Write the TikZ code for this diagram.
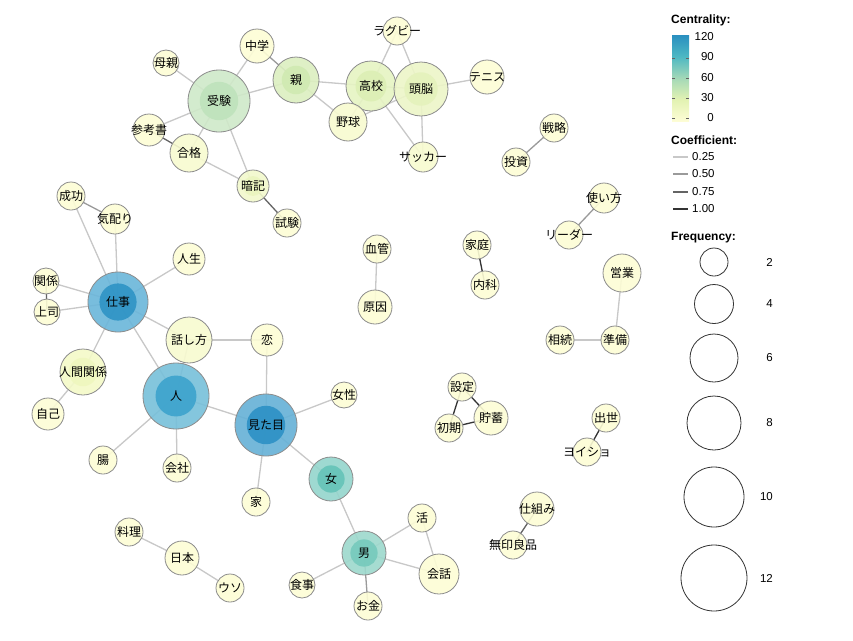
\documentclass[tikz,border=0pt]{standalone}
\usepackage{fontspec}
\setmainfont{Liberation Sans}
\newfontfamily\jpfont{Noto Sans CJK JP}
\usetikzlibrary{backgrounds}

% centrality colours
\definecolor{cz}{HTML}{FDFDD5}
\definecolor{c30}{HTML}{E2F2B2}
\definecolor{c60}{HTML}{A3D8B7}
\definecolor{c90}{HTML}{4DB8C3}
\definecolor{c120}{HTML}{2A8FC0}
\definecolor{ring}{HTML}{8C8C8C}
% node fills (outer / inner)
\definecolor{jukenO}{HTML}{CFE9C9}\definecolor{jukenI}{HTML}{BFE3BC}
\definecolor{oyaO}{HTML}{DCEFC0}\definecolor{oyaI}{HTML}{D0EAB2}
\definecolor{kokoO}{HTML}{E6F4C3}\definecolor{kokoI}{HTML}{DCEFB5}
\definecolor{zunoO}{HTML}{EDF6C8}\definecolor{zunoI}{HTML}{E5F2BC}
\definecolor{ankiO}{HTML}{F2F9CC}\definecolor{ankiI}{HTML}{EBF5BF}
\definecolor{ningenO}{HTML}{F4FAC8}\definecolor{ningenI}{HTML}{EFF7BE}
\definecolor{shigotoO}{HTML}{6AB6DA}\definecolor{shigotoI}{HTML}{2E93C5}
\definecolor{hitoO}{HTML}{77C0DA}\definecolor{hitoI}{HTML}{3DA3CD}
\definecolor{mitameO}{HTML}{65B1D7}\definecolor{mitameI}{HTML}{2D91C5}
\definecolor{onnaO}{HTML}{94D5CC}\definecolor{onnaI}{HTML}{65C3B8}
\definecolor{otokoO}{HTML}{9DD9CD}\definecolor{otokoI}{HTML}{76CABC}
\definecolor{c10}{HTML}{F8FBD0}
% coefficient colours
\definecolor{e25}{HTML}{C8C8C8}
\definecolor{e50}{HTML}{9A9A9A}
\definecolor{e75}{HTML}{646464}
\definecolor{e100}{HTML}{333333}

\pgfdeclareverticalshading{centbar}{100bp}{color(0bp)=(cz); color(25bp)=(cz); color(37.5bp)=(c30); color(50bp)=(c60); color(62.5bp)=(c90); color(75bp)=(c120); color(100bp)=(c120)}

\newsavebox\lblbox
\tikzset{
	bub/.style={circle, draw=ring, line width=0.8pt, fill=cz, fill opacity=.9, text opacity=1,
		minimum size={2*#1}, inner sep=0pt, font=\jpfont\fontsize{12}{12}\selectfont,
		execute at begin node={\setbox\lblbox=\hbox\bgroup},
		execute at end node={\egroup\hbox to 0pt{\hss\usebox\lblbox\hss}}},
	hub/.style n args={3}{bub=#1, fill=#2,
		path picture={\fill[#3] (path picture bounding box.center) circle ({0.62*#1});}},
	co25/.style={draw=e25, line width=1.3pt},
	co50/.style={draw=e50, line width=1.3pt},
	co75/.style={draw=e75, line width=1.3pt},
	co100/.style={draw=e100, line width=1.3pt},
	lgd/.style={font=\fontsize{11.5}{12}\selectfont, inner sep=0pt},
	lgdhead/.style={font=\bfseries\fontsize{12}{13}\selectfont, inner sep=0pt, anchor=west},
}

\begin{document}
\begin{tikzpicture}[x=1pt,y=-1pt]
	\useasboundingbox (0,0) rectangle (853,640);
	% exam / school cluster
	\node[hub={31}{jukenO}{jukenI}] (juken) at (219,101) {受験};
	\node[bub=17] (chugaku) at (257,46) {中学};
	\node[hub={23}{oyaO}{oyaI}] (oya) at (296,80) {親};
	\node[bub=13] (hahaoya) at (166,63) {母親};
	\node[bub=16] (sankosho) at (149,130) {参考書};
	\node[bub=19, fill=c10] (gokaku) at (189,153) {合格};
	\node[hub={16}{ankiO}{ankiI}] (anki) at (253,186) {暗記};
	\node[bub=14] (shiken) at (287,223) {試験};
	\node[hub={25}{kokoO}{kokoI}] (koko) at (371,86) {高校};
	\node[hub={27}{zunoO}{zunoI}] (zuno) at (421,89) {頭脳};
	\node[bub=14] (rugby) at (397,31) {ラグビー};
	\node[bub=17] (tennis) at (487,77) {テニス};
	\node[bub=19, fill=c10] (yakyu) at (348,122) {野球};
	\node[bub=15, fill=c10] (soccer) at (423,157) {サッカー};
	\node[bub=14] (senryaku) at (554,128) {戦略};
	\node[bub=14] (toshi) at (516,162) {投資};
	\node[bub=15] (tsukaikata) at (604,198) {使い方};
	\node[bub=14] (leader) at (569,235) {リーダー};
	% work / people cluster
	\node[bub=14] (seiko) at (71,196) {成功};
	\node[bub=15] (kikubari) at (115,219) {気配り};
	\node[bub=16] (jinsei) at (189,259) {人生};
	\node[hub={30}{shigotoO}{shigotoI}] (shigoto) at (118,302) {仕事};
	\node[bub=13] (kankei) at (46,281) {関係};
	\node[bub=13] (joshi) at (47,312) {上司};
	\node[bub=23, fill=c10] (hanashikata) at (189,340) {話し方};
	\node[bub=16] (koi) at (267,340) {恋};
	\node[hub={23}{ningenO}{ningenI}] (ningen) at (83,372) {人間関係};
	\node[bub=16] (jiko) at (48,414) {自己};
	\node[hub={33}{hitoO}{hitoI}] (hito) at (176,396) {人};
	\node[hub={31}{mitameO}{mitameI}] (mitame) at (266,425) {見た目};
	\node[bub=13] (josei) at (344,395) {女性};
	\node[bub=14] (cho) at (103,460) {腸};
	\node[bub=14] (kaisha) at (177,468) {会社};
	\node[bub=14] (ie) at (256,502) {家};
	\node[hub={22}{onnaO}{onnaI}] (onna) at (331,479) {女};
	\node[hub={22}{otokoO}{otokoI}] (otoko) at (364,553) {男};
	\node[bub=14] (katsu) at (422,518) {活};
	\node[bub=20] (kaiwa) at (439,574) {会話};
	\node[bub=13] (shokuji) at (302,585) {食事};
	\node[bub=14] (okane) at (368,606) {お金};
	\node[bub=14] (ryori) at (129,532) {料理};
	\node[bub=17] (nihon) at (182,558) {日本};
	\node[bub=14] (uso) at (230,588) {ウソ};
	% small pairs
	\node[bub=14] (kekkan) at (377,249) {血管};
	\node[bub=17] (genin) at (375,307) {原因};
	\node[bub=14] (katei) at (477,245) {家庭};
	\node[bub=14] (naika) at (485,285) {内科};
	\node[bub=19] (eigyo) at (622,273) {営業};
	\node[bub=14] (sozoku) at (560,340) {相続};
	\node[bub=14] (junbi) at (615,340) {準備};
	\node[bub=14] (settei) at (462,387) {設定};
	\node[bub=14] (shoki) at (449,428) {初期};
	\node[bub=17] (chochiku) at (491,418) {貯蓄};
	\node[bub=14] (shusse) at (606,418) {出世};
	\node[bub=14] (yoisho) at (587,452) {ヨイショ};
	\node[bub=17] (shikumi) at (537,509) {仕組み};
	\node[bub=14] (muji) at (513,545) {無印良品};

	\begin{scope}[on background layer]
	\fill[white] (0,0) rectangle (853,640);
	\draw[co25] (juken.center) -- (chugaku.center);
	\draw[co25] (juken.center) -- (hahaoya.center);
	\draw[co25] (juken.center) -- (sankosho.center);
	\draw[co25] (juken.center) -- (gokaku.center);
	\draw[co25] (juken.center) -- (anki.center);
	\draw[co25] (juken.center) -- (oya.center);
	\draw[co75] (sankosho.center) -- (gokaku.center);
	\draw[co25] (gokaku.center) -- (anki.center);
	\draw[co75] (anki.center) -- (shiken.center);
	\draw[co50] (chugaku.center) -- (oya.center);
	\draw[co25] (oya.center) -- (koko.center);
	\draw[co25] (oya.center) -- (yakyu.center);
	\draw[co25] (koko.center) -- (rugby.center);
	\draw[co25] (zuno.center) -- (rugby.center);
	\draw[co25] (koko.center) -- (zuno.center);
	\draw[co25] (zuno.center) -- (tennis.center);
	\draw[co25] (koko.center) -- (yakyu.center);
	\draw[co25] (zuno.center) -- (yakyu.center);
	\draw[co25] (koko.center) -- (soccer.center);
	\draw[co25] (zuno.center) -- (soccer.center);
	\draw[co50] (senryaku.center) -- (toshi.center);
	\draw[co50] (tsukaikata.center) -- (leader.center);
	\draw[co25] (shigoto.center) -- (seiko.center);
	\draw[co25] (shigoto.center) -- (kikubari.center);
	\draw[co50] (seiko.center) -- (kikubari.center);
	\draw[co25] (shigoto.center) -- (jinsei.center);
	\draw[co25] (shigoto.center) -- (kankei.center);
	\draw[co25] (shigoto.center) -- (joshi.center);
	\draw[co75] (kankei.center) -- (joshi.center);
	\draw[co25] (shigoto.center) -- (hanashikata.center);
	\draw[co25] (shigoto.center) -- (ningen.center);
	\draw[co25] (shigoto.center) -- (hito.center);
	\draw[co25] (ningen.center) -- (jiko.center);
	\draw[co25] (hanashikata.center) -- (koi.center);
	\draw[co25] (hanashikata.center) -- (hito.center);
	\draw[co25] (hito.center) -- (mitame.center);
	\draw[co25] (hito.center) -- (cho.center);
	\draw[co25] (hito.center) -- (kaisha.center);
	\draw[co25] (koi.center) -- (mitame.center);
	\draw[co25] (mitame.center) -- (josei.center);
	\draw[co25] (mitame.center) -- (ie.center);
	\draw[co25] (mitame.center) -- (onna.center);
	\draw[co25] (onna.center) -- (otoko.center);
	\draw[co25] (otoko.center) -- (katsu.center);
	\draw[co25] (otoko.center) -- (kaiwa.center);
	\draw[co25] (otoko.center) -- (shokuji.center);
	\draw[co50] (otoko.center) -- (okane.center);
	\draw[co25] (katsu.center) -- (kaiwa.center);
	\draw[co25] (ryori.center) -- (nihon.center);
	\draw[co25] (nihon.center) -- (uso.center);
	\draw[co25] (kekkan.center) -- (genin.center);
	\draw[co100] (katei.center) -- (naika.center);
	\draw[co25] (eigyo.center) -- (junbi.center);
	\draw[co25] (sozoku.center) -- (junbi.center);
	\draw[co100] (settei.center) -- (shoki.center);
	\draw[co100] (settei.center) -- (chochiku.center);
	\draw[co100] (shoki.center) -- (chochiku.center);
	\draw[co100] (shusse.center) -- (yoisho.center);
	\draw[co75] (shikumi.center) -- (muji.center);
	\end{scope}

	% legend: centrality
	\node[lgdhead] (centT) at (671,20) {Centrality:};
	\shade[shading=centbar] (672,35) rectangle (689,121);
	\foreach \y in {58,78,98,118} {\draw[e75, line width=0.7pt] (672,\y) -- (675,\y) (686,\y) -- (689,\y);}
	\node[lgd, anchor=east] (c120) at (714,37) {120};
	\node[lgd, anchor=east] (c90) at (714,57) {90};
	\node[lgd, anchor=east] (c60) at (714,78) {60};
	\node[lgd, anchor=east] (c30) at (714,98) {30};
	\node[lgd, anchor=east] (c0) at (714,118) {0};
	% legend: coefficient
	\node[lgdhead] (coefT) at (671,140) {Coefficient:};
	\draw[co25] (673,157) -- (688,157);
	\draw[co50] (673,174) -- (688,174);
	\draw[co75] (673,192) -- (688,192);
	\draw[co100] (673,209) -- (688,209);
	\node[lgd, anchor=west] (k25) at (692,157) {0.25};
	\node[lgd, anchor=west] (k50) at (692,174) {0.50};
	\node[lgd, anchor=west] (k75) at (692,192) {0.75};
	\node[lgd, anchor=west] (k100) at (692,209) {1.00};
	% legend: frequency
	\node[lgdhead] (freqT) at (671,238) {Frequency:};
	\draw[black!80, line width=0.8pt] (714,262) circle (14);
	\draw[black!80, line width=0.8pt] (714,304) circle (19.5);
	\draw[black!80, line width=0.8pt] (714,358) circle (24);
	\draw[black!80, line width=0.8pt] (714,423) circle (27);
	\draw[black!80, line width=0.8pt] (714,497) circle (30);
	\draw[black!80, line width=0.8pt] (714,578) circle (33);
	\node[lgd, anchor=east] (f2) at (773,262) {2};
	\node[lgd, anchor=east] (f4) at (773,304) {4};
	\node[lgd, anchor=east] (f6) at (773,358) {6};
	\node[lgd, anchor=east] (f8) at (773,423) {8};
	\node[lgd, anchor=east] (f10) at (773,497) {10};
	\node[lgd, anchor=east] (f12) at (773,578) {12};
\end{tikzpicture}
\end{document}
